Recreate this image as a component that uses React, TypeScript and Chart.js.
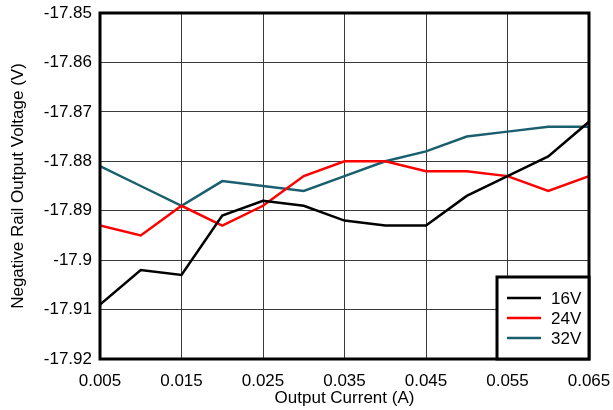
import React, { useEffect, useRef } from "react";
import { Chart, registerables } from "chart.js";

Chart.register(...registerables);

const currents = [0.005, 0.01, 0.015, 0.02, 0.025, 0.03, 0.035, 0.04, 0.045, 0.05, 0.055, 0.06, 0.065];
const v16 = [-17.909, -17.902, -17.903, -17.891, -17.888, -17.889, -17.892, -17.893, -17.893, -17.887, -17.883, -17.879, -17.872];
const v24 = [-17.893, -17.895, -17.889, -17.893, -17.889, -17.883, -17.88, -17.88, -17.882, -17.882, -17.883, -17.886, -17.883];
const v32 = [-17.881, -17.885, -17.889, -17.884, -17.885, -17.886, -17.883, -17.88, -17.878, -17.875, -17.874, -17.873, -17.873];
const seriesLabels = ["16V", "24V", "32V"];
const xTicks = [0.005, 0.015, 0.025, 0.035, 0.045, 0.055, 0.065];
const xTickLabels = ["0.005", "0.015", "0.025", "0.035", "0.045", "0.055", "0.065"];
const yTicks = [-17.92, -17.91, -17.9, -17.89, -17.88, -17.87, -17.86, -17.85];
const yTickLabels = ["-17.92", "-17.91", "-17.9", "-17.89", "-17.88", "-17.87", "-17.86", "-17.85"];

const FONT = "'Liberation Sans', Arial, sans-serif";
const colors = ["#000000", "#ff0000", "#1a5f6d"];

const framePlugin = {
  id: "frameLegend",
  afterDraw(chart: any) {
    const { ctx, chartArea } = chart;
    const { left, right, top, bottom } = chartArea;
    ctx.save();
    ctx.strokeStyle = "#000";
    ctx.lineWidth = 3;
    ctx.strokeRect(left, top, right - left, bottom - top);
    // legend box
    const bx = right - 92;
    const by = bottom - 82;
    ctx.fillStyle = "#fff";
    ctx.fillRect(bx, by, right - bx, bottom - by);
    ctx.strokeRect(bx, by, right - bx, bottom - by);
    ctx.font = `17px ${FONT}`;
    ctx.textBaseline = "middle";
    ctx.textAlign = "left";
    chart.data.datasets.forEach((ds: any, i: number) => {
      const y = by + 21 + i * 20;
      ctx.strokeStyle = ds.borderColor;
      ctx.lineWidth = 2.5;
      ctx.beginPath();
      ctx.moveTo(bx + 10, y);
      ctx.lineTo(bx + 44, y);
      ctx.stroke();
      ctx.fillStyle = "#000";
      ctx.fillText(ds.label, bx + 54, y + 1);
    });
    ctx.restore();
  },
};

const zeroPad = (s: any) => {
  s.paddingLeft = 0;
  s.paddingRight = 0;
  s.paddingTop = 0;
  s.paddingBottom = 0;
};

export default function App() {
  const ref = useRef<HTMLCanvasElement | null>(null);
  useEffect(() => {
    if (!ref.current) return;
    const mk = (vals: number[], i: number) => ({
      label: seriesLabels[i],
      data: currents.map((x, j) => ({ x, y: vals[j] })),
      borderColor: colors[i],
      backgroundColor: colors[i],
      borderWidth: 2.5,
      pointRadius: 0,
      tension: 0,
      fill: false,
    });
    const chart = new Chart(ref.current, {
      type: "line",
      data: { datasets: [mk(v16, 0), mk(v24, 1), mk(v32, 2)] },
      options: {
        animation: false,
        responsive: false,
        devicePixelRatio: 1,
        layout: { padding: { top: 13, right: 24, left: 0, bottom: 0 } },
        plugins: { legend: { display: false }, tooltip: { enabled: false } },
        scales: {
          x: {
            type: "linear",
            min: 0.005,
            max: 0.065,
            afterBuildTicks: (s: any) => {
              s.ticks = xTicks.map((v) => ({ value: v }));
            },
            afterFit: (s: any) => {
              s.height = 51;
              zeroPad(s);
            },
            ticks: {
              color: "#000",
              font: { family: FONT, size: 17 },
              padding: 12,
              maxRotation: 0,
              autoSkip: false,
              callback: (v: any) => {
                const i = xTicks.findIndex((t) => Math.abs(t - v) < 1e-9);
                return i >= 0 ? xTickLabels[i] : "";
              },
            },
            grid: { color: "#3a3a3a", lineWidth: 1, drawTicks: false },
            border: { display: false },
            title: {
              display: true,
              text: "Output Current (A)",
              color: "#000",
              font: { family: FONT, size: 17 },
              padding: { top: 0, bottom: 1 },
            },
          },
          y: {
            type: "linear",
            min: -17.92,
            max: -17.85,
            afterBuildTicks: (s: any) => {
              s.ticks = yTicks.map((v) => ({ value: v }));
            },
            afterFit: (s: any) => {
              s.width = 100;
              zeroPad(s);
            },
            ticks: {
              color: "#000",
              font: { family: FONT, size: 17 },
              padding: 8,
              autoSkip: false,
              callback: (v: any) => {
                const i = yTicks.findIndex((t) => Math.abs(t - v) < 1e-9);
                return i >= 0 ? yTickLabels[i] : "";
              },
            },
            grid: { color: "#3a3a3a", lineWidth: 1, drawTicks: false },
            border: { display: false },
            title: {
              display: true,
              text: "Negative Rail Output Voltage (V)",
              color: "#000",
              font: { family: FONT, size: 17 },
              padding: { top: 8, bottom: 0 },
            },
          },
        },
      },
      plugins: [framePlugin],
    });
    return () => chart.destroy();
  }, []);
  return (
    <div style={{ position: "fixed", left: 0, top: 0, width: 613, height: 410, background: "#fff" }}>
      <canvas ref={ref} width={613} height={410} style={{ display: "block", width: 613, height: 410 }} />
    </div>
  );
}
